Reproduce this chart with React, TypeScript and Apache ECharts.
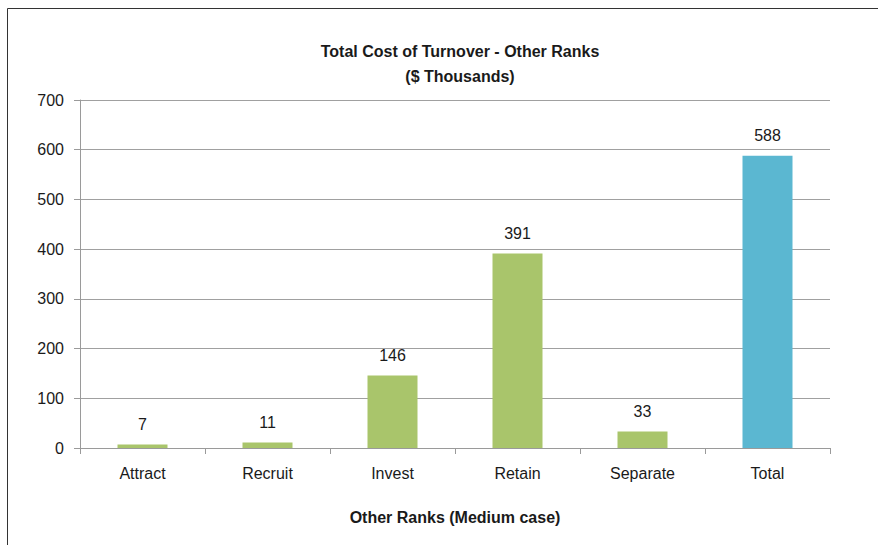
import React, { useEffect, useRef } from "react";
import * as echarts from "echarts";

const categories = ["Attract", "Recruit", "Invest", "Retain", "Separate", "Total"];
const values = [7, 11, 146, 391, 33, 588];
const barColors = ["#A9C56B", "#A9C56B", "#A9C56B", "#A9C56B", "#A9C56B", "#5BB7D1"];
const titleLines = ["Total Cost of Turnover - Other Ranks", "($ Thousands)"];
const xAxisTitle = "Other Ranks (Medium case)";

const FONT = "'Liberation Sans Narrow', 'Arial Narrow', 'Liberation Sans', Arial, sans-serif";

export default function App() {
  const ref = useRef<HTMLDivElement>(null);
  useEffect(() => {
    if (!ref.current) return;
    const chart = echarts.init(ref.current, undefined, { renderer: "svg" });
    chart.setOption({
      animation: false,
      backgroundColor: "#ffffff",
      textStyle: { fontFamily: FONT },
      title: {
        text: titleLines.join("\n"),
        left: 455,
        textAlign: "center",
        top: 34,
        textStyle: { fontFamily: FONT, fontSize: 16, fontWeight: "bold", color: "#1a1a1a", lineHeight: 25 },
      },
      graphic: [
        {
          type: "rect",
          shape: { x: 7.5, y: 8.5, width: 1000, height: 1000 },
          style: { fill: "none", stroke: "#333333", lineWidth: 1 },
          silent: true,
        },
      ],
      grid: { left: 80, right: 48, top: 100, bottom: 97, containLabel: false },
      xAxis: {
        type: "category",
        data: categories,
        name: xAxisTitle,
        nameLocation: "middle",
        nameGap: 61,
        nameTextStyle: { fontFamily: FONT, fontSize: 16, fontWeight: "bold", color: "#1a1a1a" },
        axisLine: { lineStyle: { color: "#9a9a9a", width: 1 } },
        axisTick: { show: true, alignWithLabel: false, length: 6, lineStyle: { color: "#9a9a9a" } },
        axisLabel: { fontFamily: FONT, fontSize: 16, color: "#1a1a1a", margin: 17 },
      },
      yAxis: {
        type: "value",
        min: 0,
        max: 700,
        interval: 100,
        axisLine: { show: true, lineStyle: { color: "#9a9a9a", width: 1 } },
        axisTick: { show: true, length: 6, lineStyle: { color: "#9a9a9a" } },
        axisLabel: { fontFamily: FONT, fontSize: 16, color: "#1a1a1a", margin: 16 },
        splitLine: { lineStyle: { color: "#a0a0a0", width: 1 } },
      },
      series: [
        {
          type: "bar",
          data: values.map((v, i) => ({ value: v, itemStyle: { color: barColors[i] } })),
          barWidth: "40%",
          label: {
            show: true,
            position: "top",
            distance: 12,
            fontFamily: FONT,
            fontSize: 16,
            color: "#1a1a1a",
          },
        },
      ],
    });
    return () => chart.dispose();
  }, []);
  return <div ref={ref} style={{ position: "fixed", left: 0, top: 0, width: 878, height: 545 }} />;
}
